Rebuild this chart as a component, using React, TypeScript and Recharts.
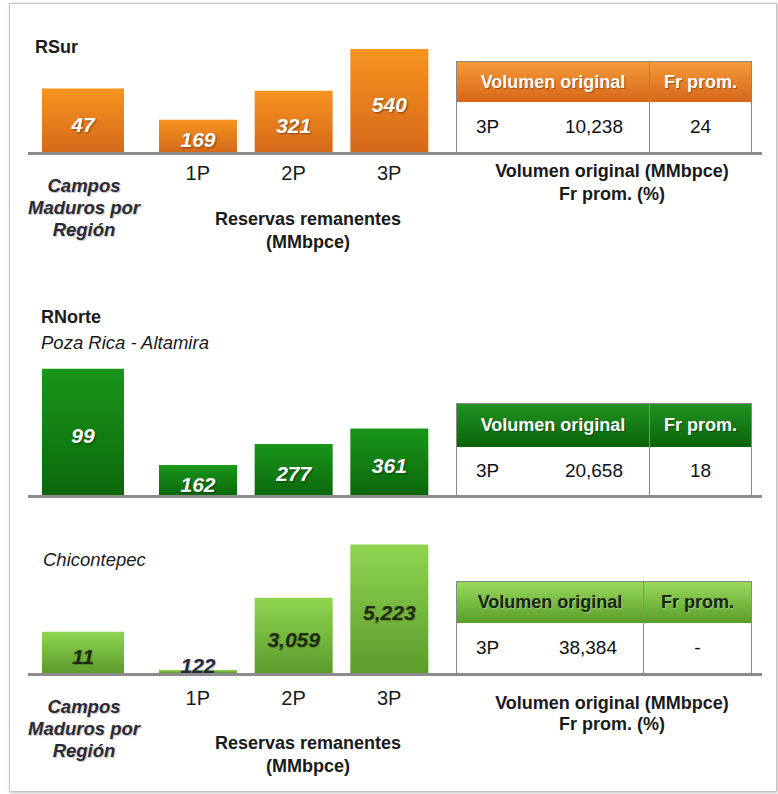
import React from "react";
import { BarChart, Bar, XAxis, YAxis, LabelList } from "recharts";

// categorias
const camposCategoria = ["Campos"];
const reservasCategorias = ["1P", "2P", "3P"];

// RSur
const rsurCampos = [47];
const rsurReservas = [169, 321, 540];
// RNorte - Poza Rica - Altamira
const norteCampos = [99];
const norteReservas = [162, 277, 361];
// RNorte - Chicontepec
const chicoCampos = [11];
const chicoReservas = [122, 3059, 5223];

// tablas
const tablaEncabezados = ["Volumen original", "Fr prom."];
const volumenCategoria = "3P";
const volumenOriginal = [10238, 20658, 38384];
const frPromedio = ["24", "18", "-"];

const toRows = (cats: string[], vals: number[]) =>
  cats.map((c, i) => ({ cat: c, valor: vals[i] }));

const fmt = (v: number) => v.toLocaleString("en-US");

const FONT = "'Liberation Sans', Arial, sans-serif";

function ValueLabel(props: any) {
  const { x, y, width, height, value, textColor } = props;
  const small = height < 22;
  const cy = small ? y + height - 8 : y + height / 2 + 4;
  const light = textColor === "#fff" && !small;
  return (
    <text
      x={x + width / 2}
      y={cy}
      textAnchor="middle"
      dominantBaseline="central"
      fill={small ? "#262a40" : textColor}
      fontSize={21}
      fontWeight="bold"
      fontStyle="italic"
      style={{ textShadow: light ? "1px 1px 2px rgba(0,0,0,0.45)" : "1px 1px 1px rgba(0,0,0,0.2)" }}
    >
      {fmt(value)}
    </text>
  );
}

type Txt = { x: number; y: number; children: React.ReactNode; style?: React.CSSProperties; align?: "left" | "center" };

function Label({ x, y, children, style, align = "center" }: Txt) {
  const lh = 22;
  const base: React.CSSProperties = {
    position: "absolute",
    top: y - lh / 2,
    lineHeight: lh + "px",
    whiteSpace: "nowrap",
    color: "#1a1a1a",
    fontSize: 18,
  };
  if (align === "center") {
    return <div style={{ ...base, left: x - 200, width: 400, textAlign: "center", ...style }}>{children}</div>;
  }
  return <div style={{ ...base, left: x, ...style }}>{children}</div>;
}

type PanelProps = {
  id: string;
  campos: number[];
  reservas: number[];
  camposMax: number;
  reservasMax: number;
  plotTop: number;
  base: number;
  grad: [string, string];
  labelColor: string;
  showTicks: boolean;
  tickMargin?: number;
};

function Barras(p: PanelProps) {
  const h = p.base - p.plotTop;
  const axisH = p.showTicks ? 40 : 0;
  const gid = p.id + "-grad";
  const defs = (
    <defs>
      <linearGradient id={gid} x1="0" y1="0" x2="0" y2="1">
        <stop offset="0%" stopColor={p.grad[0]} />
        <stop offset="100%" stopColor={p.grad[1]} />
      </linearGradient>
    </defs>
  );
  return (
    <>
      <div style={{ position: "absolute", left: 33, top: p.plotTop }}>
        <BarChart width={100} height={h} data={toRows(camposCategoria, p.campos)} margin={{ top: 0, right: 0, bottom: 0, left: 0 }}>
          {defs}
          <XAxis dataKey="cat" hide />
          <YAxis hide domain={[0, p.camposMax]} />
          <Bar dataKey="valor" barSize={82} fill={`url(#${gid})`} isAnimationActive={false}>
            <LabelList dataKey="valor" content={<ValueLabel textColor={p.labelColor} />} />
          </Bar>
        </BarChart>
      </div>
      <div style={{ position: "absolute", left: 150, top: p.plotTop }}>
        <BarChart width={287} height={h + axisH} data={toRows(reservasCategorias, p.reservas)} margin={{ top: 0, right: 0, bottom: 0, left: 0 }}>
          {defs}
          <XAxis
            dataKey="cat"
            hide={!p.showTicks}
            height={axisH}
            axisLine={false}
            tickLine={false}
            tickMargin={p.tickMargin ?? 8}
            tick={{ fill: "#1a1a1a", fontSize: 20 }}
          />
          <YAxis hide domain={[0, p.reservasMax]} />
          <Bar dataKey="valor" barSize={78} fill={`url(#${gid})`} isAnimationActive={false}>
            <LabelList dataKey="valor" content={<ValueLabel textColor={p.labelColor} />} />
          </Bar>
        </BarChart>
      </div>
      <div style={{ position: "absolute", left: 28, top: p.base, width: 734, height: 3, background: "#8c8c8c" }} />
    </>
  );
}

type TablaProps = {
  top: number;
  headH: number;
  bodyH: number;
  divider: number;
  headBg: string;
  headColor: string;
  vol: number;
  fr: string;
};

function Tabla(t: TablaProps) {
  const left = 456;
  const right = 752;
  const w1 = t.divider - left;
  const w2 = right - t.divider;
  const cell: React.CSSProperties = {
    position: "absolute",
    boxSizing: "border-box",
    fontSize: 19,
    display: "flex",
    alignItems: "center",
  };
  const headTxt: React.CSSProperties = {
    color: t.headColor,
    fontWeight: "bold",
    fontSize: 18,
    textShadow: t.headColor === "#fff" ? "1px 1px 1px rgba(0,0,0,0.35)" : "1px 1px 1px rgba(255,255,255,0.3)",
    justifyContent: "center",
  };
  return (
    <div style={{ position: "absolute", left, top: t.top, width: right - left, height: t.headH + t.bodyH }}>
      <div style={{ ...cell, ...headTxt, left: 0, top: 0, width: w1, height: t.headH, background: t.headBg, borderLeft: "1px solid #888", borderTop: "1px solid #888" }}>
        {tablaEncabezados[0]}
      </div>
      <div style={{ ...cell, ...headTxt, left: w1, top: 0, width: w2, height: t.headH, background: t.headBg, borderLeft: "1px solid #888", borderRight: "1px solid #888", borderTop: "1px solid #888" }}>
        {tablaEncabezados[1]}
      </div>
      <div style={{ ...cell, left: 0, top: t.headH, width: w1, height: t.bodyH, borderLeft: "1px solid #888", background: "#fff", color: "#111" }}>
        <span style={{ position: "absolute", left: 19 }}>{volumenCategoria}</span>
        <span style={{ position: "absolute", right: 26 }}>{fmt(t.vol)}</span>
      </div>
      <div style={{ ...cell, left: w1, top: t.headH, width: w2, height: t.bodyH, borderLeft: "1px solid #888", borderRight: "1px solid #888", background: "#fff", color: "#111", justifyContent: "center" }}>
        {t.fr}
      </div>
    </div>
  );
}

const camposTxt: React.CSSProperties = {
  fontWeight: "bold",
  fontStyle: "italic",
  color: "#2a2a36",
  fontSize: 18.5,
  textShadow: "1px 1px 1px rgba(0,0,0,0.25)",
};
const boldTxt: React.CSSProperties = { fontWeight: "bold", fontSize: 18 };

function Pie({ y }: { y: number }) {
  return (
    <>
      <Label x={84} y={y} style={camposTxt}>Campos</Label>
      <Label x={84} y={y + 22} style={camposTxt}>Maduros por</Label>
      <Label x={84} y={y + 44} style={camposTxt}>Región</Label>
    </>
  );
}

export default function App() {
  return (
    <div style={{ position: "absolute", left: 0, top: 0, width: 778, height: 794, background: "#fff", fontFamily: FONT, overflow: "hidden" }}>
      <div style={{ position: "absolute", left: 9, top: 3, width: 766, height: 787, border: "1px solid #c4c4c4", boxShadow: "1px 1px 3px rgba(0,0,0,0.25)" }} />

      {/* RSur */}
      <Label x={35} y={47} align="left" style={{ fontWeight: "bold", fontSize: 18 }}>RSur</Label>
      <Barras
        id="rsur"
        campos={rsurCampos}
        reservas={rsurReservas}
        camposMax={83}
        reservasMax={587}
        plotTop={40}
        base={152}
        grad={["#f7941f", "#d5691a"]}
        labelColor="#fff"
        showTicks
        tickMargin={8}
      />
      <Tabla top={61} headH={41} bodyH={50} divider={649} headBg="linear-gradient(#f59a38, #d7671a)" headColor="#fff" vol={volumenOriginal[0]} fr={frPromedio[0]} />
      <Pie y={186} />
      <Label x={308} y={219} style={boldTxt}>Reservas remanentes</Label>
      <Label x={308} y={242} style={boldTxt}>(MMbpce)</Label>
      <Label x={612} y={171} style={boldTxt}>Volumen original (MMbpce)</Label>
      <Label x={612} y={194} style={boldTxt}>Fr prom. (%)</Label>

      {/* RNorte */}
      <Label x={41} y={317} align="left" style={{ fontWeight: "bold", fontSize: 18 }}>RNorte</Label>
      <Label x={41} y={343} align="left" style={{ fontStyle: "italic", fontSize: 18.5 }}>Poza Rica - Altamira</Label>
      <Barras
        id="norte"
        campos={norteCampos}
        reservas={norteReservas}
        camposMax={105.8}
        reservasMax={732}
        plotTop={360}
        base={495}
        grad={["#1a961a", "#0b680b"]}
        labelColor="#fff"
        showTicks={false}
      />
      <Tabla top={403} headH={44} bodyH={48} divider={649} headBg="linear-gradient(#219321, #0a630a)" headColor="#fff" vol={volumenOriginal[1]} fr={frPromedio[1]} />

      {/* Chicontepec */}
      <Label x={43} y={560} align="left" style={{ fontStyle: "italic", fontSize: 18.5 }}>Chicontepec</Label>
      <Barras
        id="chico"
        campos={chicoCampos}
        reservas={chicoReservas}
        camposMax={35.4}
        reservasMax={5407}
        plotTop={540}
        base={673}
        grad={["#8fd550", "#5c9c2d"]}
        labelColor="#1f2a12"
        showTicks
        tickMargin={12}
      />
      <Tabla top={581} headH={42} bodyH={50} divider={643} headBg="linear-gradient(#98da5c, #5a9e2a)" headColor="#1a2410" vol={volumenOriginal[2]} fr={frPromedio[2]} />
      <Pie y={707} />
      <Label x={308} y={743} style={boldTxt}>Reservas remanentes</Label>
      <Label x={308} y={766} style={boldTxt}>(MMbpce)</Label>
      <Label x={612} y={703} style={boldTxt}>Volumen original (MMbpce)</Label>
      <Label x={612} y={724} style={boldTxt}>Fr prom. (%)</Label>
    </div>
  );
}
